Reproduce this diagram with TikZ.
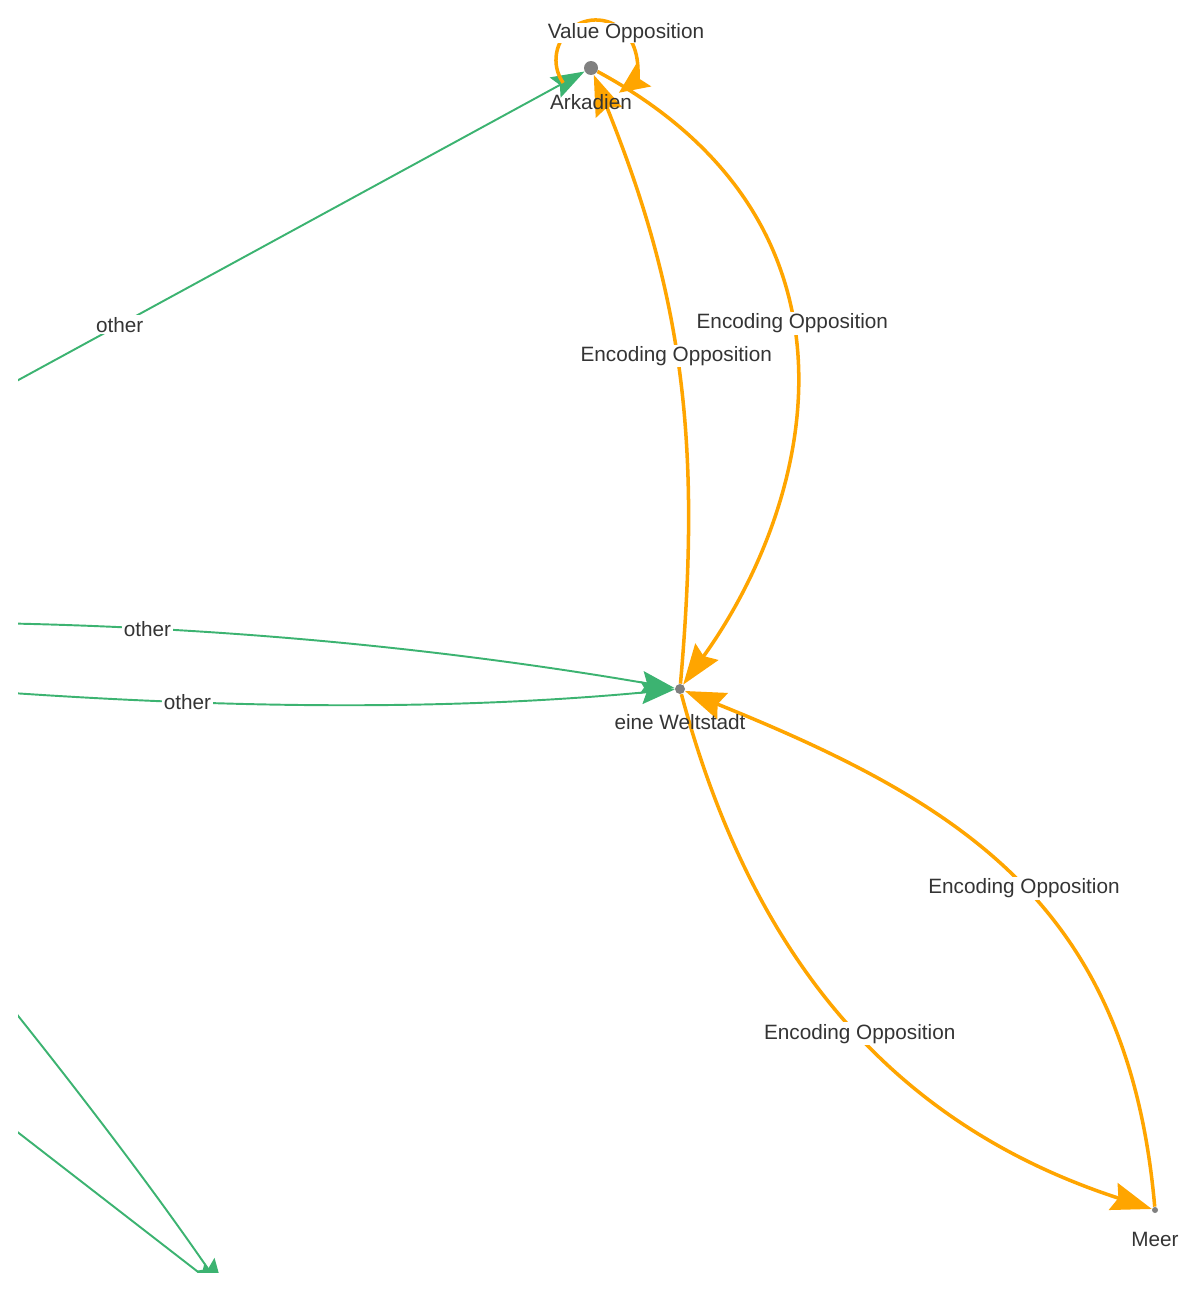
\documentclass[tikz,border=0pt]{standalone}
\usepackage{fontspec}
\setmainfont{Liberation Sans}
\usetikzlibrary{arrows.meta, positioning, calc, backgrounds}
\definecolor{edgegreen}{HTML}{3CB371}
\definecolor{edgeorange}{HTML}{FFA500}
\definecolor{dotgray}{HTML}{808080}
\definecolor{txtgray}{HTML}{343434}

\begin{document}
\begin{tikzpicture}[x=0.02cm, y=0.02cm,
  every node/.style={font=\fontsize{11.8}{13}\selectfont, text=txtgray},
  dot/.style={circle, fill=dotgray, inner sep=0pt, minimum size=#1},
  nodelbl/.style={inner sep=0pt},
  edgelbl/.style={fill=white, inner sep=1pt},
  greenedge/.style={draw=edgegreen, line width=1.1pt, -{Stealth[length=19pt, width=13pt, inset=3pt]}},
  orangeedge/.style={draw=edgeorange, line width=2pt, -{Stealth[length=23pt, width=16pt, inset=3pt]}}]
\useasboundingbox (0,0) rectangle (1200,-1291);
% Places
\node[dot=0.28cm] (ark) at (591,-68) {};
\node[nodelbl, below=0.37cm of ark] (arklbl) {Arkadien};
\node[dot=0.2cm] (wel) at (680,-689) {};
\node[nodelbl, below=0.39cm of wel] (wellbl) {eine Weltstadt};
\node[dot=0.12cm] (meer) at (1155,-1210) {};
\node[nodelbl, below=0.37cm of meer] (meerlbl) {Meer};
% Ends outside the frame
\coordinate (src1) at (-345,-578);
\coordinate (src2) at (-380,-632);
\coordinate (src3) at (-300,-665);
\coordinate (src4) at (-100,-871);
\coordinate (src5) at (-100,-1041);
\coordinate (sink) at (224,-1292);
\begin{scope}[on background layer]
\clip (18,0) rectangle (1200,-1272);
% other
\draw[greenedge] (src1) -- node[edgelbl] {other} (ark);
\draw[greenedge] (src2) .. controls (-29,-609) and (324,-628) .. (wel) node[edgelbl, midway] {other};
\draw[greenedge] (src3) .. controls (24,-700) and (351,-720) .. (wel) node[edgelbl, midway] {other};
\draw[greenedge] (src4) .. controls (30,-1027) and (138,-1167) .. (sink);
\draw[greenedge] (src5) -- (sink);
% Oppositions
\draw[orangeedge, -{Stealth[length=17pt, width=15pt, inset=3pt]}] (ark) ++(-27.8,-14.9) arc[start angle=215, end angle=-55, radius=40];
\node[edgelbl, inner sep=0pt] (vallbl) at (626,-33) {Value Opposition};
\draw[orangeedge] (wel) to[out=85, in=-68] node[edgelbl, pos=0.53] {Encoding Opposition} (ark);
\draw[orangeedge] (ark) .. controls (885,-227) and (811,-507) .. (wel) node[edgelbl, pos=0.43] {Encoding Opposition};
\draw[orangeedge] (wel) to[out=-75, in=162] node[edgelbl, pos=0.53] {Encoding Opposition} (meer);
\draw[orangeedge] (meer) to[out=95, in=-22, looseness=1.1] node[edgelbl, pos=0.48] {Encoding Opposition} (wel);
\end{scope}
\end{tikzpicture}
\end{document}
